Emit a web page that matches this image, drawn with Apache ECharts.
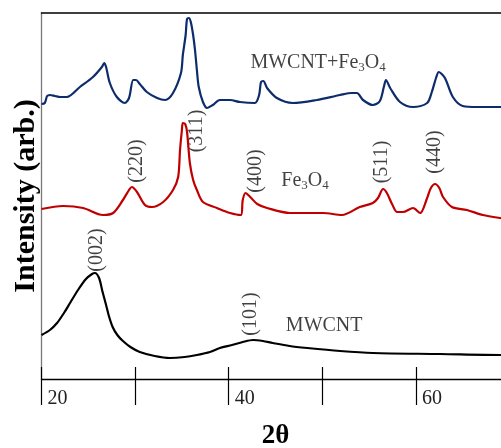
<!DOCTYPE html>
<html>
<head>
<meta charset="utf-8">
<script src="https://cdn.jsdelivr.net/npm/echarts@6/dist/echarts.min.js"></script>
<style>html,body{margin:0;padding:0;background:#fff}#c{width:501px;height:448px}</style>
</head>
<body>
<div id="c"></div>
<script>
// 2θ (deg) vs intensity (arb., stacked offsets)
var mwcnt = [[20.0,44],[20.9,49],[21.66,56],[22.4,66],[23.05,76],[23.9,89],[24.75,100],[25.4,105],[25.7,106],[26.15,101],[26.5,88],[26.9,74],[27.2,63],[27.6,52],[28.1,44],[28.7,38],[29.5,32],[30.5,27],[32.1,23],[33.7,21],[35.3,22],[36.6,24],[38.0,27],[39.05,31],[40.35,34],[41.5,37],[42.6,39],[43.65,38],[44.7,36],[46.5,33],[48.4,31],[51.9,28],[55.4,26],[62.6,25],[69.0,24],[70,24]];
var fe3o4 = [[20.0,170],[22.3,173],[24.45,171],[26.55,164],[27.65,166],[28.7,179],[29.35,189],[29.65,192],[30.2,187],[31.05,174],[31.8,172],[33.0,177],[34.05,189],[34.6,202],[34.8,229],[35.0,249],[35.1,256],[35.35,255],[35.55,247],[35.85,216],[36.2,199],[36.6,189],[37.25,177],[38.75,171],[40.15,166],[41.3,164],[41.5,179],[41.8,186],[42.3,182],[43.05,175],[44.1,171],[46.55,166],[50.1,166],[52.1,164],[54.0,172],[55.4,176],[55.95,181],[56.5,190],[56.9,186],[57.45,175],[58.0,167],[58.6,167],[59.7,171],[60.45,166],[61.2,181],[61.6,191],[62.05,195],[62.5,191],[62.9,182],[63.85,172],[65.45,169],[67.15,164],[69.0,161],[70,160]];
var composite = [[20.0,275],[20.35,276],[20.6,283],[20.9,284],[21.45,283],[22.0,282],[22.7,282],[24.1,292],[25.5,302],[26.45,312],[26.7,316],[26.9,312],[27.3,296],[28.05,282],[28.9,276],[29.35,281],[29.8,299],[30.1,299],[30.5,295],[31.25,287],[32.35,281],[33.2,279],[34.05,286],[34.9,306],[35.1,324],[35.4,344],[35.55,360],[35.75,361],[35.95,357],[36.2,344],[36.4,329],[36.6,309],[36.8,292],[37.25,277],[37.7,271],[38.3,274],[39.05,279],[40.15,279],[41.2,277],[42.8,276],[43.25,284],[43.45,297],[43.7,298],[44.1,291],[45.15,281],[46.85,276],[49.4,279],[51.9,284],[53.15,286],[53.7,286],[54.35,279],[55.4,274],[56.15,278],[56.6,293],[56.8,299],[57.25,291],[58.3,277],[59.7,272],[61.2,276],[61.7,287],[62.15,301],[62.45,307],[63.1,301],[63.95,282],[65.0,273],[66.55,272],[69.0,272],[70,272]];
var peakLabels = [['(002)',25.95,129],['(101)',42.4,65],['(220)',30.2,218],['(311)',36.6,248],['(400)',42.9,208],['(511)',56.4,217],['(440)',62.0,227]];
var seriesLabels = [['MWCNT+Fe{s|3}O{s|4}',49.55,316],['Fe{s|3}O{s|4}',48.15,198],['MWCNT',50.2,53]];
var xTickLabels = [20,40,60];

var FONT = '"Liberation Serif","Times New Roman",serif';
var chart = echarts.init(document.getElementById('c'), null, {renderer:'canvas'});
var annData = peakLabels.map(function(p){return {value:[p[1],p[2]], name:p[0], label:{rotate:90}};})
  .concat(seriesLabels.map(function(p){return {value:[p[1],p[2]], name:p[0], label:{rotate:0}};}));
chart.setOption({
  animation:false,
  grid:{left:41.5, right:-8.5, top:13, bottom:69, containLabel:false, outerBoundsMode:'none'},
  xAxis:[
    {type:'value', min:20, max:70, interval:10, position:'bottom',
     axisLine:{show:true, lineStyle:{color:'#000', width:1.3}},
     axisTick:{show:true, inside:false, length:26, lineStyle:{color:'#000', width:1.2}},
     axisLabel:{formatter:function(v){return xTickLabels.indexOf(v)>=0 ? String(v) : '';},
       align:'left', padding:[0,0,0,6], margin:10, fontFamily:FONT, fontSize:20, color:'#222'},
     splitLine:{show:false},
     name:'2θ', nameLocation:'middle', nameGap:44,
     nameTextStyle:{fontFamily:FONT, fontSize:27, fontWeight:'bold', color:'#000'}},
    {type:'value', min:20, max:70, interval:10, position:'bottom',
     axisLine:{show:false}, axisTick:{show:true, inside:true, length:12, lineStyle:{color:'#000', width:1.2}},
     axisLabel:{show:false}, splitLine:{show:false}},
    {type:'value', min:20, max:70, position:'top',
     axisLine:{show:true, lineStyle:{color:'#000', width:1.5}}, axisTick:{show:false},
     axisLabel:{show:false}, splitLine:{show:false}}
  ],
  yAxis:{type:'value', min:0, max:366,
    axisLine:{show:true, lineStyle:{color:'#777', width:1.3}}, axisTick:{show:false},
    axisLabel:{show:false}, splitLine:{show:false},
    name:'Intensity (arb.)', nameLocation:'middle', nameGap:0, nameRotate:90,
    nameTextStyle:{fontFamily:FONT, fontSize:30, fontWeight:'bold', color:'#000'}},
  series:[
    {type:'line', data:composite, showSymbol:false, smooth:0.3, lineStyle:{color:'#0d2c6c', width:2.2}, itemStyle:{color:'#0d2c6c'}},
    {type:'line', data:fe3o4, showSymbol:false, smooth:0.3, lineStyle:{color:'#c00000', width:2.2}, itemStyle:{color:'#c00000'}},
    {type:'line', data:mwcnt, showSymbol:false, smooth:0.3, lineStyle:{color:'#000', width:2.2}, itemStyle:{color:'#000'}},
    {type:'scatter', data:annData, symbolSize:0, silent:true,
     label:{show:true, position:'inside', formatter:function(p){return p.name;},
       fontFamily:FONT, fontSize:20, color:'#111',
       rich:{s:{fontFamily:FONT, fontSize:13, color:'#111', padding:[9,0,0,0]}}}}
  ]
});
</script>
</body>
</html>
